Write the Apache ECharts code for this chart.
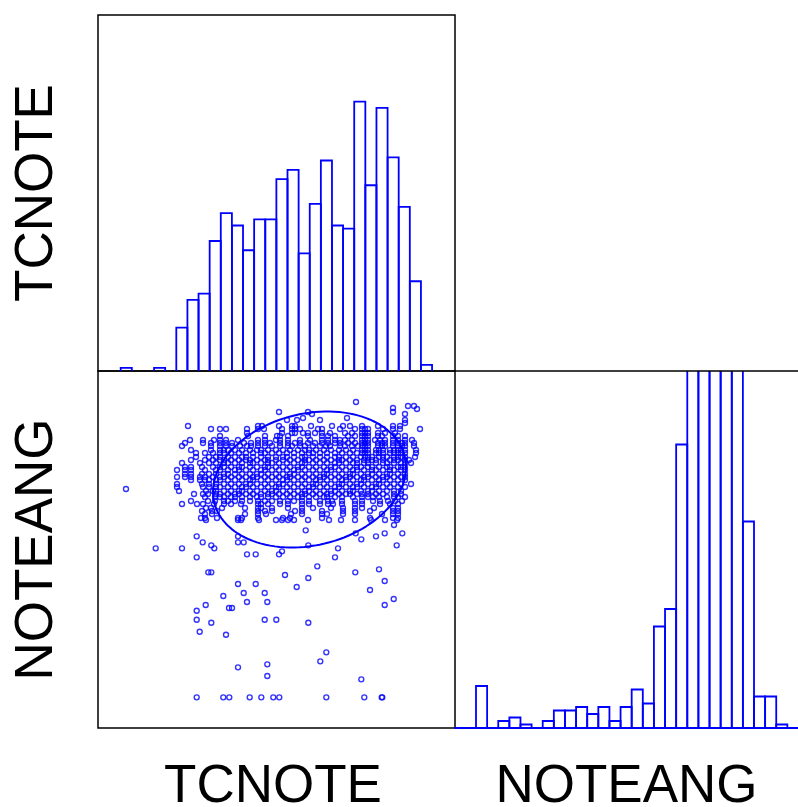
<!DOCTYPE html>
<html>
<head>
<meta charset="utf-8">
<script src="https://cdn.jsdelivr.net/npm/echarts@6/dist/echarts.min.js"></script>
<style>
  html, body { margin: 0; padding: 0; background: #fff; }
  #chart { width: 798px; height: 807px; }
</style>
</head>
<body>
<div id="chart"></div>
<script>
// Scatterplot matrix of TCNOTE and NOTEANG (histograms on the diagonal).
// Both variables are expressed on the same linear scale (0..357).

const variables = ['TCNOTE', 'NOTEANG'];

// Histogram bins: start of first bin, common width, and counts per bin
const tcnoteBinStart = 22.7;
const noteangBinStart = 21;
const binWidth = 11.12;
const tcnoteCounts = [1, 0, 0, 1, 0, 14, 23, 25, 42, 51, 47, 39, 49, 49, 62, 65, 38, 54, 68, 47, 46, 87, 60, 85, 69, 53, 29, 2];
const noteangCounts = [12, 0, 2, 3, 1, 0, 2, 5, 5, 6, 4, 6, 2, 6, 11, 7, 29, 34, 81, 140, 175, 190, 170, 137, 59, 9, 9, 1];

// Scatter observations grouped by NOTEANG value: [NOTEANG, [TCNOTE, ...]]
const denseRows = [
  [326, [258]],
  [322, [310, 316]],
  [320, [295]],
  [319, [319]],
  [316, [181, 210, 295]],
  [314, [214, 307]],
  [310, [205, 249]],
  [308, [189, 199, 222, 307]],
  [305, [307]],
  [302, [90, 160, 164, 181, 194, 197, 213, 234, 245, 252, 264, 280, 295, 302]],
  [299, [113, 122, 128, 149, 160, 166, 184, 194, 197, 202, 220, 224, 242, 257, 264, 267, 270, 285, 295, 302, 322]],
  [295, [149, 184, 194, 197, 205, 210, 217, 224, 232, 247, 254, 264, 267, 270, 280, 287, 297]],
  [292, [122, 150, 167, 179, 182, 190, 210, 224, 230, 237, 250, 257, 264, 267, 270, 280, 284, 295, 300, 307]],
  [288, [92, 105, 116, 122, 128, 140, 160, 167, 178, 182, 190, 202, 212, 224, 230, 237, 242, 247, 254, 264, 267, 270, 277, 282, 287, 295, 300, 307, 314]],
  [285, [87, 105, 113, 122, 128, 134, 146, 153, 160, 167, 172, 182, 190, 197, 202, 210, 217, 224, 230, 237, 242, 250, 257, 264, 267, 270, 280, 284, 287, 295, 300, 304, 307, 316]],
  [282, [84, 113, 122, 128, 134, 142, 149, 153, 160, 167, 174, 182, 190, 194, 202, 207, 215, 222, 228, 232, 242, 247, 254, 260, 264, 267, 270, 280, 284, 287, 295, 300, 304, 307, 316]],
  [278, [93, 113, 122, 126, 130, 137, 144, 152, 159, 163, 170, 178, 185, 192, 200, 207, 211, 218, 226, 233, 241, 248, 255, 264, 267, 270, 278, 281, 285, 292, 296, 300, 303, 307, 318]],
  [275, [98, 107, 115, 122, 126, 133, 141, 148, 155, 163, 167, 174, 181, 189, 196, 204, 211, 215, 222, 229, 237, 244, 252, 259, 264, 267, 270, 278, 281, 285, 292, 296, 300, 303, 307, 318]],
  [271, [98, 111, 118, 122, 130, 137, 144, 148, 155, 163, 170, 178, 185, 189, 196, 204, 207, 215, 222, 229, 237, 241, 248, 255, 263, 267, 270, 274, 281, 285, 289, 296, 300, 303, 307, 317]],
  [268, [93, 107, 115, 122, 126, 133, 141, 148, 152, 159, 167, 170, 178, 185, 192, 200, 207, 211, 218, 226, 233, 241, 244, 252, 259, 266, 270, 274, 278, 285, 292, 296, 300, 307, 311]],
  [265, [84, 102, 111, 118, 126, 130, 137, 144, 152, 155, 163, 170, 174, 181, 189, 196, 204, 207, 215, 222, 229, 237, 241, 248, 255, 259, 266, 270, 278, 285, 289, 296, 303, 307, 313]],
  [261, [87, 93, 104, 115, 122, 126, 133, 141, 144, 152, 159, 167, 170, 178, 185, 192, 200, 204, 211, 218, 226, 233, 237, 244, 252, 259, 263, 270, 274, 281, 289, 292, 300, 303, 307]],
  [258, [79, 87, 93, 107, 118, 122, 130, 137, 141, 148, 155, 163, 167, 174, 181, 189, 196, 200, 207, 215, 222, 229, 233, 241, 248, 255, 259, 266, 274, 278, 285, 292, 296, 303, 307]],
  [254, [87, 93, 104, 111, 118, 126, 130, 137, 144, 152, 159, 163, 170, 178, 185, 192, 196, 204, 211, 218, 226, 229, 237, 244, 252, 255, 263, 270, 274, 281, 289, 292, 300, 307]],
  [251, [79, 87, 93, 102, 107, 115, 122, 126, 133, 141, 148, 155, 159, 167, 174, 181, 189, 192, 200, 207, 215, 222, 226, 233, 241, 248, 252, 259, 266, 270, 278, 285, 289, 296, 303, 307]],
  [248, [93, 102, 107, 111, 118, 122, 130, 137, 144, 152, 155, 163, 170, 178, 185, 189, 196, 204, 211, 218, 222, 229, 237, 244, 248, 255, 263, 266, 274, 281, 285, 292, 300, 307]],
  [244, [79, 104, 111, 118, 126, 133, 141, 148, 152, 159, 167, 174, 181, 185, 192, 200, 207, 215, 218, 226, 233, 241, 244, 252, 259, 263, 270, 278, 281, 289, 296, 303, 313]],
  [241, [79, 105, 111, 118, 122, 130, 137, 144, 148, 155, 163, 170, 178, 181, 189, 196, 204, 211, 215, 222, 229, 237, 241, 248, 255, 259, 266, 274, 278, 285, 292, 300, 307]],
  [237, [81, 108, 115, 118, 126, 133, 141, 144, 152, 159, 167, 174, 178, 185, 192, 200, 207, 211, 218, 226, 233, 237, 244, 252, 255, 263, 270, 274, 281, 289, 296, 303]],
  [234, [96, 105, 110, 118, 122, 130, 137, 141, 148, 155, 163, 170, 174, 181, 189, 196, 204, 207, 215, 222, 229, 233, 241, 248, 252, 259, 264, 270, 278, 285, 296, 303]],
  [231, [107, 117, 122, 126, 133, 137, 144, 152, 159, 163, 170, 178, 185, 192, 200, 204, 211, 218, 226, 229, 237, 244, 255, 264, 270, 275, 281, 289, 296, 300, 307]],
  [227, [93, 110, 117, 126, 130, 137, 144, 152, 160, 167, 174, 182, 190, 196, 204, 211, 222, 230, 234, 244, 257, 264, 275, 282, 290, 297, 304]],
  [224, [84, 99, 105, 116, 126, 133, 143, 160, 163, 170, 182, 190, 204, 211, 222, 230, 235, 244, 257, 264, 282, 292, 300]],
  [220, [108, 113, 124, 147, 160, 163, 174, 190, 204, 215, 233, 245, 257, 264, 276, 295, 300]],
  [217, [104, 114, 119, 160, 167, 174, 197, 204, 224, 245, 257, 272, 295, 300]],
  [214, [107, 114, 147, 160, 168, 193, 204, 224, 229, 245, 257, 284, 295, 300]],
  [210, [103, 107, 119, 140, 144, 160, 185, 192, 224, 272, 295, 300]],
  [208, [108, 140, 143, 161, 178, 184, 190, 196, 210, 231, 243, 257, 273, 287, 299]],
  [203, [296]]
];

// Isolated observations: [TCNOTE, NOTEANG]
const sparsePoints = [
  [28, 239],
  [57.7, 179.7], [84, 179.7], [98.7, 191.7], [104.7, 185.7], [113.3, 182.7], [116.3, 179.7],
  [98.7, 170.7], [140, 191.7], [140, 185.7], [145.7, 185.7], [149, 173.7], [157.7, 173.7],
  [181, 173.7], [184, 176.7], [207.7, 197.7], [210.3, 182.7], [240, 179.7], [237, 170.7],
  [257.7, 194.7], [263.3, 188.7], [278, 191.7], [286.7, 194.7], [298.7, 182.7], [304.3, 194.7],
  [110.3, 155.7], [113.3, 155.7], [187, 153], [219.3, 161.7], [210.3, 150], [257.3, 155.7],
  [281, 158.7], [286.7, 147], [140, 144], [157.7, 144], [198.7, 141], [145.7, 135],
  [166.7, 135], [125.3, 132], [149, 126], [169.3, 126], [272, 138], [295.7, 129],
  [286.7, 123], [107.7, 123], [98.7, 117.3], [131, 120], [134, 120], [98.7, 108.3],
  [113.3, 105.3], [101.7, 96.3], [128, 93.3], [166.7, 108.3], [178.3, 108.3], [210.3, 105.3],
  [228.3, 75.7], [222.3, 66.7], [140, 60.7], [169.3, 63.7], [169.3, 52], [263.3, 48.7],
  [98.7, 30.7], [125.3, 30.7], [131.3, 30.7], [151.7, 30.7], [163.3, 30.7], [175.3, 30.7],
  [181.3, 30.7], [228.3, 30.7], [266.3, 30.7], [283.7, 30.7], [284.3, 30.7]
];

// Prediction ellipse: centre, standard deviations, correlation
const ellipseCenter = [211.5, 248.5];
const ellipseSd = [96.5, 68];
const ellipseCorr = 0.183;

// ---- build series data ----
const scatterData = [];
denseRows.forEach(([y, xs]) => xs.forEach(x => scatterData.push([x, y])));
sparsePoints.forEach(p => scatterData.push(p));

function binData(start, counts) {
  return counts
    .map((c, k) => [start + k * binWidth, start + (k + 1) * binWidth, c])
    .filter(d => d[2] > 0);
}

const ellipseData = [];
for (let deg = 0; deg <= 360; deg += 3) {
  const t = deg * Math.PI / 180;
  ellipseData.push([
    ellipseCenter[0] + ellipseSd[0] * Math.cos(t),
    ellipseCenter[1] + ellipseSd[1] * (ellipseCorr * Math.cos(t) + Math.sqrt(1 - ellipseCorr * ellipseCorr) * Math.sin(t))
  ]);
}

const BLUE = '#0000ff';
const nameStyle = { fontFamily: 'Liberation Sans', fontSize: 53, color: '#000' };
const hidden = {
  axisLine: { show: false }, axisTick: { show: false },
  axisLabel: { show: false }, splitLine: { show: false }
};

function histRender(params, api) {
  const lo = api.value(0), hi = api.value(1), c = api.value(2);
  const a = api.coord([lo, 0]);
  const b = api.coord([lo, c]);
  const d = api.coord([hi, c]);
  const e = api.coord([hi, 0]);
  return {
    type: 'polyline',
    shape: { points: [a, b, d, e] },
    style: { fill: 'none', stroke: BLUE, lineWidth: 1.8 }
  };
}

const chart = echarts.init(document.getElementById('chart'), null, { renderer: 'canvas' });
chart.setOption({
  animation: false,
  backgroundColor: '#fff',
  grid: [
    { left: 98, top: 15, width: 357, height: 356, show: true, borderColor: '#000', borderWidth: 1.5,
      containLabel: false, outerBoundsMode: 'none' },
    { left: 98, top: 371, width: 357, height: 357, show: true, borderColor: '#000', borderWidth: 1.5,
      containLabel: false, outerBoundsMode: 'none' },
    { left: 455, top: 371, width: 343, height: 357, show: false,
      containLabel: false, outerBoundsMode: 'none' }
  ],
  xAxis: [
    Object.assign({ gridIndex: 0, type: 'value', min: 0, max: 357 }, hidden),
    Object.assign({ gridIndex: 1, type: 'value', min: 0, max: 357,
      name: variables[0], nameLocation: 'middle', nameGap: 33,
      nameTextStyle: Object.assign({ padding: [0, 7, 0, 0] }, nameStyle) }, hidden),
    Object.assign({}, hidden, { gridIndex: 2, type: 'value', min: 0, max: 343,
      name: variables[1], nameLocation: 'middle', nameGap: 33, nameTextStyle: nameStyle,
      axisLine: { show: true, onZero: false, lineStyle: { color: BLUE, width: 1.8 } } }),
    Object.assign({}, hidden, { gridIndex: 2, type: 'value', position: 'top', min: 0, max: 343, z: 5,
      axisLine: { show: true, onZero: false, lineStyle: { color: '#000', width: 1.5 } } })
  ],
  yAxis: [
    Object.assign({ gridIndex: 0, type: 'value', min: 0, max: 115,
      name: variables[0], nameLocation: 'middle', nameRotate: 90, nameGap: 34, nameTextStyle: nameStyle }, hidden),
    Object.assign({ gridIndex: 1, type: 'value', min: 0, max: 357,
      name: variables[1], nameLocation: 'middle', nameRotate: 90, nameGap: 34, nameTextStyle: nameStyle }, hidden),
    Object.assign({ gridIndex: 2, type: 'value', min: 0, max: 102 }, hidden)
  ],
  series: [
    {
      type: 'custom', xAxisIndex: 0, yAxisIndex: 0, clip: true, silent: true,
      renderItem: histRender, encode: { x: [0, 1], y: 2 },
      data: binData(tcnoteBinStart, tcnoteCounts)
    },
    {
      type: 'custom', xAxisIndex: 2, yAxisIndex: 2, clip: true, silent: true,
      renderItem: histRender, encode: { x: [0, 1], y: 2 },
      data: binData(noteangBinStart, noteangCounts)
    },
    {
      type: 'scatter', xAxisIndex: 1, yAxisIndex: 1, silent: true,
      symbol: 'circle', symbolSize: 5,
      itemStyle: { color: 'rgba(0,0,0,0)', borderColor: BLUE, borderWidth: 1.35 },
      data: scatterData
    },
    {
      type: 'line', xAxisIndex: 1, yAxisIndex: 1, silent: true,
      showSymbol: false, symbol: 'none',
      lineStyle: { color: BLUE, width: 2 },
      data: ellipseData
    }
  ]
});
</script>
</body>
</html>
